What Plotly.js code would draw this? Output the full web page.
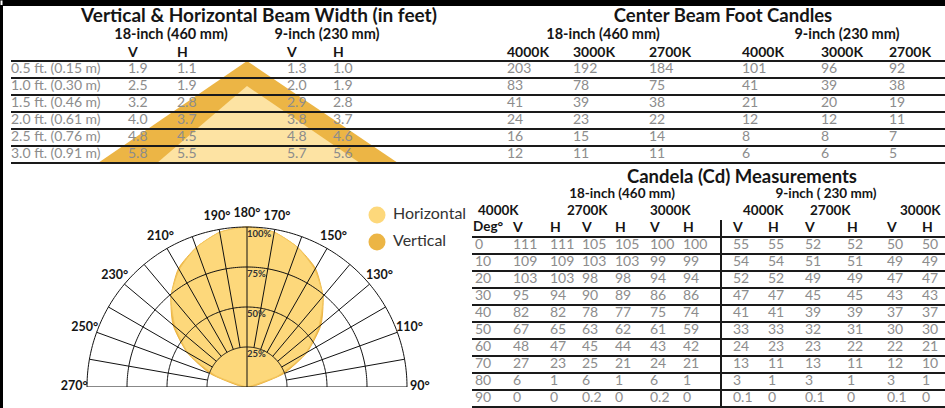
<!DOCTYPE html>
<html><head><meta charset="utf-8">
<script src="https://cdn.plot.ly/plotly-3.0.1.min.js"></script>
<style>html,body{margin:0;padding:0;background:#fff;}#chart{width:945px;height:408px;}</style>
</head><body><div id="chart"></div>
<script>
// ---------------- DATA ----------------
const beamTitle = 'Vertical & Horizontal Beam Width (in feet)';
const fcTitle = 'Center Beam Foot Candles';
const cdTitle = 'Candela (Cd) Measurements';
const sizeLabels = ['18-inch (460 mm)', '9-inch (230 mm)'];
const cdSizeLabels = ['18-inch (460 mm)', '9-inch ( 230 mm)'];
const distances = ['0.5 ft. (0.15 m)', '1.0 ft. (0.30 m)', '1.5 ft. (0.46 m)', '2.0 ft. (0.61 m)', '2.5 ft. (0.76 m)', '3.0 ft. (0.91 m)'];
const beam18V = [1.9, 2.5, 3.2, 4.0, 4.8, 5.8];
const beam18H = [1.1, 1.9, 2.8, 3.7, 4.5, 5.5];
const beam9V  = [1.3, 2.0, 2.9, 3.8, 4.8, 5.7];
const beam9H  = [1.0, 1.9, 2.8, 3.7, 4.6, 5.6];

const fcTemps = ['4000K', '3000K', '2700K', '4000K', '3000K', '2700K'];
const fc18_4000 = [203, 83, 41, 24, 16, 12];
const fc18_3000 = [192, 78, 39, 23, 15, 11];
const fc18_2700 = [184, 75, 38, 22, 14, 11];
const fc9_4000  = [101, 41, 21, 12, 8, 6];
const fc9_3000  = [96, 39, 20, 12, 8, 6];
const fc9_2700  = [92, 38, 19, 11, 7, 5];

const cdTemps = ['4000K', '2700K', '3000K', '4000K', '2700K', '3000K'];
const degrees = [0, 10, 20, 30, 40, 50, 60, 70, 80, 90];
const cd18_4000V = [111, 109, 103, 95, 82, 67, 48, 27, 6, 0];
const cd18_4000H = [111, 109, 103, 94, 82, 65, 47, 23, 1, 0];
const cd18_2700V = [105, 103, 98, 90, 78, 63, 45, 25, 6, 0.2];
const cd18_2700H = [105, 103, 98, 89, 77, 62, 44, 21, 1, 0];
const cd18_3000V = [100, 99, 94, 86, 75, 61, 43, 24, 6, 0.2];
const cd18_3000H = [100, 99, 94, 86, 74, 59, 42, 21, 1, 0];
const cd9_4000V = [55, 54, 52, 47, 41, 33, 24, 13, 3, 0.1];
const cd9_4000H = [55, 54, 52, 47, 41, 33, 23, 11, 1, 0];
const cd9_2700V = [52, 51, 49, 45, 39, 32, 23, 13, 3, 0.1];
const cd9_2700H = [52, 51, 49, 45, 39, 31, 22, 11, 1, 0];
const cd9_3000V = [50, 49, 47, 43, 37, 30, 22, 12, 3, 0.1];
const cd9_3000H = [50, 49, 47, 43, 37, 30, 21, 10, 1, 0];

const polarLabels = [270, 250, 230, 210, 190, 180, 170, 150, 130, 110, 90];
const ringPercents = [25, 50, 75, 100];
const legendNames = ['Horizontal', 'Vertical'];

// ---------------- STYLE / LAYOUT ----------------
const FONT = 'Lato, "Open Sans", "Noto Sans", sans-serif';
const INK = '#151515';
const GREY = '#8c8c8c';
const LIGHT = '#FDD87B';
const DARK = '#ECB545';
const TRI_LIGHT = '#FDE3A3';

const traces = [];
function txt(xs, ys, texts, size, color, bold, pos) {
  traces.push({type: 'scatter', mode: 'text', x: xs, y: ys, text: texts,
    textposition: pos || 'middle right', cliponaxis: false, hoverinfo: 'skip', showlegend: false,
    textfont: {family: FONT, size: size, color: color, weight: bold ? 700 : 400}});
}
const rep = (v, n) => Array(n).fill(v);

// beam triangle (decoration)
traces.push({type: 'scatter', mode: 'lines', x: [98, 247, 398, 98], y: [163, 61, 163, 163], fill: 'toself',
  fillcolor: DARK, line: {width: 0}, hoverinfo: 'skip', showlegend: false});
traces.push({type: 'scatter', mode: 'lines', x: [157, 247, 360, 157], y: [163, 86, 163, 163], fill: 'toself',
  fillcolor: TRI_LIGHT, line: {width: 0}, hoverinfo: 'skip', showlegend: false});

// top tables
const topRowY = distances.map((_, i) => 69.5 + 17 * i);
txt([259], [17], [beamTitle], 19, INK, true, 'middle center');
txt([171, 327], [35, 35], sizeLabels, 14.5, INK, true, 'middle center');
txt([128, 177, 287, 333], rep(53, 4), ['V', 'H', 'V', 'H'], 14, INK, true);
txt(rep(11, 6), topRowY, distances, 14, GREY, false);
[[beam18V, 128], [beam18H, 177], [beam9V, 287], [beam9H, 333]].forEach(([arr, x]) =>
  txt(rep(x, arr.length), topRowY, arr.map(v => v.toFixed(1)), 14, GREY, false));

const fcX = [507, 573, 649, 742, 821, 889];
txt([723], [17], [fcTitle], 18.5, INK, true, 'middle center');
txt([603, 847], [35, 35], sizeLabels, 14.5, INK, true, 'middle center');
txt(fcX, rep(53, 6), fcTemps, 14, INK, true);
[fc18_4000, fc18_3000, fc18_2700, fc9_4000, fc9_3000, fc9_2700].forEach((arr, c) =>
  txt(rep(fcX[c], arr.length), topRowY, arr.map(String), 14, GREY, false));

// candela table
const cdX = [475, 513, 550, 582, 615, 650, 683, 733, 768, 805, 847, 887, 922];
const cdRowY = degrees.map((_, i) => 245.5 + 17 * i);
txt([742], [178], [cdTitle], 18.5, INK, true, 'middle center');
txt([622, 826], [195, 195], cdSizeLabels, 13.5, INK, true, 'middle center');
txt([478, 567, 650, 743, 810, 900], rep(211.5, 6), cdTemps, 13.5, INK, true);
txt([473], [228], ['Deg°'], 13.5, INK, true);
txt(cdX.slice(1), rep(228, 12), ['V', 'H', 'V', 'H', 'V', 'H', 'V', 'H', 'V', 'H', 'V', 'H'], 14, INK, true);
[degrees, cd18_4000V, cd18_4000H, cd18_2700V, cd18_2700H, cd18_3000V, cd18_3000H,
 cd9_4000V, cd9_4000H, cd9_2700V, cd9_2700H, cd9_3000V, cd9_3000H].forEach((arr, c) =>
  txt(rep(cdX[c], arr.length), cdRowY, arr.map(String), 14, GREY, false));

// legend
traces.push({type: 'scatter', mode: 'markers', x: [377, 377], y: [215, 242],
  marker: {size: 17, color: [LIGHT, DARK], line: {width: 0}}, hoverinfo: 'skip', showlegend: false});
txt([393, 393], [215, 242], legendNames, 16, '#333', false);

// polar: light distribution (18-inch 4000K normalized)
function polarPath(vals) {
  const m = vals[0];
  const th = [], r = [];
  for (let i = vals.length - 1; i >= 1; i--) { th.push(180 + degrees[i]); r.push(vals[i] / m * 100); }
  for (let i = 0; i < vals.length; i++) { th.push(180 - degrees[i]); r.push(vals[i] / m * 100); }
  return {th, r};
}
const pv = polarPath(cd18_4000V), ph = polarPath(cd18_4000H);
traces.push({type: 'scatterpolar', subplot: 'polar', mode: 'lines', theta: pv.th, r: pv.r, fill: 'toself',
  fillcolor: DARK, line: {color: DARK, width: 1, shape: 'spline', smoothing: 0.6}, hoverinfo: 'skip', showlegend: false});
traces.push({type: 'scatterpolar', subplot: 'polar', mode: 'lines', theta: ph.th, r: ph.r, fill: 'toself',
  fillcolor: LIGHT, line: {color: '#F3C65E', width: 1, shape: 'spline', smoothing: 0.6}, hoverinfo: 'skip', showlegend: false});

// polar grid: arcs + spokes + baseline
const gth = [], gr = [];
ringPercents.forEach(rr => { for (let a = 90; a <= 270; a += 1) { gth.push(a); gr.push(rr); } gth.push(null); gr.push(null); });
for (let a = 100; a <= 260; a += 10) { if (a === 180) continue; gth.push(a, a, null); gr.push(25, 100, null); }
gth.push(180, 180, null); gr.push(0, 100, null);
gth.push(270, 0, 90); gr.push(100, 0, 100);
traces.push({type: 'scatterpolar', subplot: 'polar', mode: 'lines', theta: gth, r: gr,
  line: {color: '#111', width: 1}, connectgaps: false, hoverinfo: 'skip', showlegend: false});

traces.push({type: 'scatterpolar', subplot: 'polar', mode: 'text', theta: polarLabels, r: rep(108, polarLabels.length),
  text: polarLabels.map(a => a + '°'), textposition: 'middle center', cliponaxis: false,
  textfont: {family: FONT, size: 12.5, color: INK, weight: 700}, hoverinfo: 'skip', showlegend: false});
traces.push({type: 'scatterpolar', subplot: 'polar', mode: 'text', theta: rep(180, 4), r: ringPercents.map(p => p - 5),
  text: ringPercents.map(p => p + '%'), textposition: 'middle right', cliponaxis: false,
  textfont: {family: FONT, size: 9.5, color: '#333', weight: 700}, hoverinfo: 'skip', showlegend: false});

// shapes: frame + rules
const shapes = [];
shapes.push({type: 'rect', xref: 'x', yref: 'y', x0: 0, x1: 945, y0: 0, y1: 6, fillcolor: '#000', line: {width: 0}, layer: 'above'});
shapes.push({type: 'rect', xref: 'x', yref: 'y', x0: 0, x1: 3, y0: 0, y1: 408, fillcolor: '#000', line: {width: 0}, layer: 'above'});
shapes.push({type: 'rect', xref: 'x', yref: 'y', x0: 0.5, x1: 2.5, y0: 0.5, y1: 5, fillcolor: '#fff', line: {width: 0}, layer: 'above'});
for (let k = 0; k <= distances.length; k++)
  shapes.push({type: 'line', xref: 'x', yref: 'y', x0: 11, x1: 945, y0: 61 + 17 * k, y1: 61 + 17 * k, line: {color: '#1a1a1a', width: 2}, layer: 'above'});
for (let k = 0; k <= degrees.length; k++)
  shapes.push({type: 'line', xref: 'x', yref: 'y', x0: 472, x1: 945, y0: 237 + 17 * k, y1: 237 + 17 * k, line: {color: '#1a1a1a', width: 2}, layer: 'above'});
shapes.push({type: 'line', xref: 'x', yref: 'y', x0: 721, x1: 721, y0: 220, y1: 408, line: {color: '#1a1a1a', width: 2}, layer: 'above'});

// polar radial range extends past 100% so the angle labels fit; r=100 stays at 160 px
const RMAX = 115, R100 = 160, CX = 247, CY = 387;
const RPX = R100 * RMAX / 100;
const layout = {
  width: 945, height: 408, margin: {l: 0, r: 0, t: 0, b: 0},
  paper_bgcolor: '#fff', plot_bgcolor: 'rgba(0,0,0,0)', showlegend: false, hovermode: false,
  xaxis: {range: [0, 945], autorange: false, visible: false, domain: [0, 1], fixedrange: true},
  yaxis: {range: [408, 0], autorange: false, visible: false, domain: [0, 1], fixedrange: true},
  polar: {
    domain: {x: [(CX - RPX) / 945, (CX + RPX) / 945], y: [(408 - CY) / 408, (408 - CY + RPX) / 408]},
    sector: [0, 180], bgcolor: 'rgba(0,0,0,0)',
    radialaxis: {range: [0, RMAX], visible: false},
    angularaxis: {rotation: -90, direction: 'counterclockwise', visible: false}
  },
  shapes: shapes
};
Plotly.newPlot('chart', traces, layout, {staticPlot: true, displayModeBar: false});
</script>
</body></html>
